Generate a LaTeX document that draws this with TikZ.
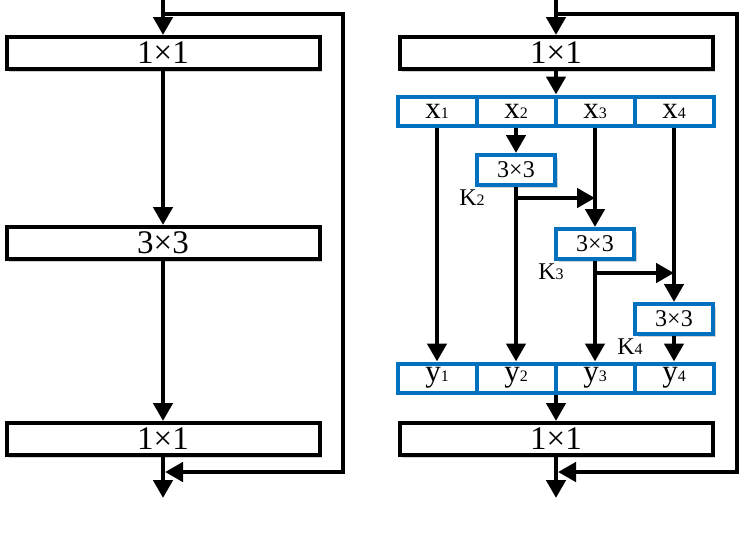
\documentclass[tikz,border=0pt]{standalone}
\usepackage{fontspec}
\setmainfont{Liberation Serif}
\usetikzlibrary{arrows.meta,shadows}

\definecolor{splitblue}{rgb}{0.00,0.44,0.75}

\newcommand{\idx}[1]{{\fontsize{16}{16}\selectfont #1}}

\begin{document}
\begin{tikzpicture}[
    x=1pt, y=-1pt,
    %% Columns:  left x = 163   right x = 556   (cells at 437 516 595 674)
    %% Rows:     1x1 = 53  |  split = 111  |  merge = 378  |  1x1 = 439
    shade/.style={drop shadow={shadow xshift=2.5pt, shadow yshift=-2.5pt,
                  opacity=0.3, fill=black!60}},
    conv/.style={draw, line width=4pt, fill=white, shade,
                 minimum width=313pt, minimum height=32pt, inner sep=0pt,
                 font=\fontsize{33}{33}\selectfont},
    part/.style={draw=splitblue, line width=4pt, fill=white, shade,
                 minimum width=79pt, minimum height=29pt, inner sep=0pt,
                 font=\fontsize{31}{31}\selectfont},
    kbox/.style={draw=splitblue, line width=4pt, fill=white, shade,
                 minimum width=78pt, minimum height=30pt, inner sep=0pt,
                 font=\fontsize{24}{24}\selectfont},
    klab/.style={font=\fontsize{24}{24}\selectfont, inner sep=0pt},
    flow/.style={line width=4.5pt, -{Triangle[length=18pt, width=19pt]}},
]
\useasboundingbox (0,0) rectangle (744,550);

%% ── Left block ───────────────────────────────────────────────────────────
\coordinate (Lin)  at (163,0);
\coordinate (Lsp)  at (163,14);
\coordinate (Lc1)  at (343,14);
\coordinate (Lc2)  at (343,472);
\coordinate (Lout) at (163,498);

\node[conv] (L1) at (163,53)  {1×1};
\node[conv] (L2) at (163,243) {3×3};
\node[conv] (L3) at (163,439) {1×1};

\draw[flow] (Lin) -- (L1);
\draw[flow] (L1) -- (L2);
\draw[flow] (L2) -- (L3);
\draw[flow] (L3) -- (Lout);
\draw[flow] (Lsp) -- (Lc1) -- (Lc2) -- ([xshift=2pt]Lout |- Lc2);

%% ── Right block ──────────────────────────────────────────────────────────
\coordinate (Rin)  at (556,0);
\coordinate (Rsp)  at (556,14);
\coordinate (Rc1)  at (737,14);
\coordinate (Rc2)  at (737,472);
\coordinate (Rout) at (556,498);

\node[conv] (R1) at (556,53)  {1×1};
\node[conv] (R3) at (556,439) {1×1};

%% split cells
\node[part] (x1) at (437,111) {x\idx{1}};
\node[part] (x2) at (516,111) {x\idx{2}};
\node[part] (x3) at (595,111) {x\idx{3}};
\node[part] (x4) at (674,111) {x\idx{4}};

%% merge cells
\node[part] (y1) at (437,378) {y\idx{1}};
\node[part] (y2) at (516,378) {y\idx{2}};
\node[part] (y3) at (595,378) {y\idx{3}};
\node[part] (y4) at (674,378) {y\idx{4}};

%% 3x3 branches
\node[kbox] (k2) at (516,170) {3×3};
\node[kbox] (k3) at (595,244) {3×3};
\node[kbox] (k4) at (674,319) {3×3};

\node[klab] (K2) at (472,198) {K\idx{2}};
\node[klab] (K3) at (551,272) {K\idx{3}};
\node[klab] (K4) at (630,347) {K\idx{4}};

\coordinate (j2) at (516,198);
\coordinate (j3) at (595,273);

\draw[flow] (Rin) -- (R1);
\draw[flow] (R1) -- (R1 |- x2.north east);
\draw[flow] (x1) -- (y1);
\draw[flow] (x2) -- (k2);
\draw[flow] (k2) -- (y2);
\draw[flow] (x3) -- (k3);
\draw[flow] (k3) -- (y3);
\draw[flow] (x4) -- (k4);
\draw[flow] (k4) -- (y4);
\draw[flow] (j2) -- (j2 -| x3);
\draw[flow] (j3) -- (j3 -| x4);
\draw[flow] (R3 |- y2.south east) -- (R3);
\draw[flow] (R3) -- (Rout);
\draw[flow] (Rsp) -- (Rc1) -- (Rc2) -- ([xshift=2pt]Rout |- Rc2);

\end{tikzpicture}
\end{document}
